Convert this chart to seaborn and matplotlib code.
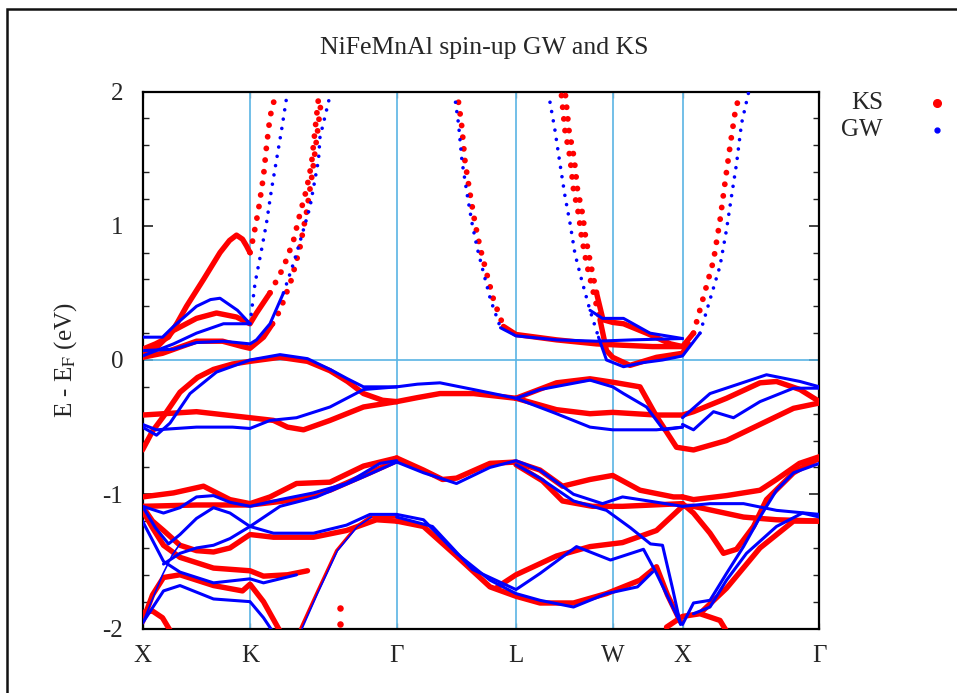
import numpy as np
import pandas as pd
import seaborn as sns
import matplotlib
matplotlib.use("Agg")
import matplotlib.pyplot as plt
from matplotlib.lines import Line2D
from matplotlib.patches import Rectangle
from matplotlib.ticker import MultipleLocator

# ---------------- data (k along path, E - E_F in eV) ----------------
sym_labels = ["X", "K", "Γ", "L", "W", "X", "Γ"]
sym_k = [0.0, 1.075, 2.542, 3.735, 4.702, 5.40, 6.77]

# ---- KS (red) bands, continuous parts ----
ks_bump_k = [0, 0.13, 0.26, 0.35, 0.44, 0.61, 0.775, 0.87, 0.94, 1.0, 1.04, 1.075]
ks_bump_e = [0.08, 0.12, 0.17, 0.28, 0.40, 0.60, 0.80, 0.89, 0.93, 0.90, 0.85, 0.80]
ks_mid_k = [0, 0.15, 0.31, 0.54, 0.74, 0.94, 1.075, 1.14, 1.275]
ks_mid_e = [0.05, 0.10, 0.22, 0.31, 0.35, 0.32, 0.27, 0.35, 0.50]
ks_low_k = [0, 0.2, 0.54, 0.8, 1.0, 1.075, 1.21, 1.30]
ks_low_e = [0.02, 0.05, 0.14, 0.14, 0.10, 0.087, 0.17, 0.27]
ks_dome_k = [0, 0.1, 0.21, 0.375, 0.55, 0.71, 0.9, 1.075, 1.375, 1.65, 1.875, 2.05, 2.21, 2.4, 2.542]
ks_dome_e = [-0.67, -0.53, -0.42, -0.24, -0.13, -0.07, -0.03, -0.01, 0.02, -0.01, -0.08, -0.16, -0.25, -0.30, -0.31]
ks_flat_k = [0, 0.54, 1.075, 1.31, 1.45, 1.61, 1.875, 2.21, 2.542]
ks_flat_e = [-0.41, -0.385, -0.43, -0.45, -0.50, -0.52, -0.45, -0.35, -0.31]
ks_gl_k = [2.542, 2.75, 2.975, 3.31, 3.735]
ks_gl_e = [-0.31, -0.28, -0.25, -0.25, -0.285]
ks_lwu_k = [3.735, 4.14, 4.475, 4.74, 4.975, 5.14, 5.34, 5.51, 5.84, 6.175, 6.51, 6.77]
ks_lwu_e = [-0.285, -0.17, -0.14, -0.17, -0.20, -0.42, -0.65, -0.67, -0.60, -0.48, -0.36, -0.32]
ks_lwl_k = [3.735, 4.14, 4.475, 4.702, 5.14, 5.40, 5.51, 5.84, 6.175, 6.34, 6.575, 6.77]
ks_lwl_e = [-0.285, -0.37, -0.40, -0.39, -0.41, -0.41, -0.385, -0.285, -0.17, -0.16, -0.22, -0.31]
ks_lflat_k = [3.61, 3.735, 4.14, 4.54, 4.80, 5.10, 5.40]
ks_lflat_e = [0.25, 0.19, 0.15, 0.12, 0.11, 0.10, 0.10]
ks_w1_k = [4.575, 4.64, 4.702, 4.875, 5.14, 5.40, 5.46]
ks_w1_e = [0.30, 0.07, 0.02, -0.04, 0.02, 0.05, 0.12]
ks_w2_k = [4.54, 4.605, 4.702, 4.81, 5.04, 5.28, 5.40, 5.51]
ks_w2_e = [0.50, 0.30, 0.28, 0.27, 0.20, 0.12, 0.10, 0.20]
ks_A_k = [0, 0.31, 0.61, 0.875, 1.075, 1.275, 1.54, 1.875, 2.21, 2.542]
ks_A_e = [-1.02, -0.99, -0.94, -1.04, -1.07, -1.02, -0.92, -0.91, -0.79, -0.73]
ks_B_k = [0, 0.54, 1.075, 1.54, 1.875, 2.275, 2.542]
ks_B_e = [-1.09, -1.08, -1.08, -1.04, -0.97, -0.84, -0.75]
ks_C_k = [0, 0.1, 0.21, 0.375, 0.54, 0.71, 0.875, 1.075, 1.31, 1.71, 2.04, 2.34, 2.542]
ks_C_e = [-1.09, -1.20, -1.27, -1.38, -1.42, -1.43, -1.40, -1.30, -1.32, -1.32, -1.27, -1.19, -1.20]
ks_D_k = [0, 0.1, 0.21, 0.375, 0.71, 1.075, 1.21, 1.45, 1.65]
ks_D_e = [-1.12, -1.25, -1.38, -1.47, -1.55, -1.57, -1.61, -1.60, -1.57]
ks_E_k = [0, 0.1, 0.21, 0.375, 0.71, 1.0, 1.075, 1.21, 1.375]
ks_E_e = [-1.95, -1.75, -1.62, -1.60, -1.68, -1.72, -1.67, -1.80, -2.02]
ks_arc_k = [0, 0.1, 0.2, 0.28]
ks_arc_e = [-1.88, -1.87, -1.92, -2.02]
ks_M1_k = [2.542, 2.81, 3.0, 3.14, 3.475, 3.735, 3.975, 4.2, 4.475, 4.702, 4.975, 5.31, 5.40]
ks_M1_e = [-0.73, -0.82, -0.89, -0.88, -0.77, -0.76, -0.82, -0.94, -0.89, -0.86, -0.97, -1.02, -1.02]
ks_M2_k = [3.735, 4.0, 4.2, 4.5, 4.8, 5.1, 5.40]
ks_M2_e = [-0.78, -0.90, -1.05, -1.09, -1.09, -1.08, -1.07]
ks_M3_k = [2.542, 2.81, 3.14, 3.475, 3.735, 3.975, 4.31, 4.64, 4.975, 5.14, 5.25, 5.38]
ks_M3_e = [-1.20, -1.24, -1.46, -1.69, -1.76, -1.81, -1.81, -1.74, -1.64, -1.54, -1.75, -1.95]
ks_M4_k = [3.55, 3.735, 4.14, 4.475, 4.8, 5.14, 5.40]
ks_M4_e = [-1.69, -1.60, -1.46, -1.39, -1.36, -1.27, -1.09]
ks_X1_k = [5.40, 5.51, 5.84, 6.175, 6.34, 6.57, 6.77]
ks_X1_e = [-1.02, -1.04, -1.01, -0.97, -0.89, -0.77, -0.72]
ks_X2_k = [5.40, 5.51, 5.675, 5.81, 5.94, 6.11, 6.24, 6.51, 6.77]
ks_X2_e = [-1.07, -1.14, -1.29, -1.44, -1.41, -1.24, -1.04, -0.84, -0.73]
ks_X3_k = [5.40, 5.51, 6.01, 6.34, 6.77]
ks_X3_e = [-1.09, -1.09, -1.17, -1.19, -1.20]
ks_X4_k = [5.6, 5.84, 6.175, 6.51, 6.77]
ks_X4_e = [-1.87, -1.70, -1.40, -1.20, -1.20]
ks_arc2_k = [5.24, 5.40, 5.575, 5.775, 5.84]
ks_arc2_e = [-1.99, -1.91, -1.89, -1.94, -2.02]

# ---- KS (red) steep parts drawn as dotted points ----
ks_s1_k = [1.075, 1.11, 1.16, 1.21, 1.24, 1.275, 1.315]
ks_s1_e = [0.80, 0.92, 1.12, 1.37, 1.59, 1.81, 1.93]
ks_s2_k = [1.275, 1.41, 1.51, 1.575, 1.64, 1.69, 1.725, 1.76]
ks_s2_e = [0.50, 0.69, 0.89, 1.09, 1.27, 1.46, 1.71, 1.95]
ks_s3_k = [1.30, 1.375, 1.49, 1.575, 1.64, 1.70, 1.75, 1.79]
ks_s3_e = [0.27, 0.37, 0.60, 0.84, 1.10, 1.40, 1.70, 1.95]
ks_s4_k = [3.16, 3.19, 3.225, 3.275, 3.325, 3.375, 3.44, 3.51, 3.61]
ks_s4_e = [1.92, 1.76, 1.48, 1.24, 1.02, 0.84, 0.65, 0.45, 0.25]
ks_s5_k = [4.19, 4.225, 4.275, 4.31, 4.36, 4.39, 4.44, 4.51, 4.575]
ks_s5_e = [1.97, 1.71, 1.51, 1.27, 1.09, 0.92, 0.72, 0.50, 0.30]
ks_s6_k = [4.23, 4.265, 4.315, 4.35, 4.40, 4.43, 4.48, 4.54]
ks_s6_e = [1.97, 1.71, 1.51, 1.27, 1.09, 0.92, 0.72, 0.50]
ks_s7_k = [5.51, 5.61, 5.71, 5.775, 5.825, 5.875, 5.925, 5.96]
ks_s7_e = [0.20, 0.47, 0.74, 1.04, 1.32, 1.59, 1.84, 1.95]
ks_s8_k = [1.575, 1.74, 1.94, 2.14, 2.275, 2.542]
ks_s8_e = [-2.01, -1.74, -1.42, -1.24, -1.17, -1.17]
ks_dot_k = [1.975, 1.975]
ks_dot_e = [-1.85, -1.97]

# ---- GW (blue) bands, continuous parts ----
gw_hump_k = [0, 0.2, 0.31, 0.54, 0.68, 0.775, 0.95, 1.075]
gw_hump_e = [0.17, 0.17, 0.25, 0.40, 0.45, 0.46, 0.37, 0.27]
gw_mid_k = [0, 0.31, 0.54, 0.81, 1.075]
gw_mid_e = [0.03, 0.12, 0.20, 0.27, 0.27]
gw_low_k = [0, 0.31, 0.54, 0.81, 1.075, 1.14, 1.275, 1.41]
gw_low_e = [0.07, 0.08, 0.13, 0.14, 0.12, 0.15, 0.27, 0.50]
gw_dome_k = [0, 0.14, 0.275, 0.475, 0.74, 1.075, 1.375, 1.65, 1.875, 2.05, 2.21, 2.542]
gw_dome_e = [-0.50, -0.56, -0.47, -0.25, -0.09, 0.0, 0.04, 0.01, -0.07, -0.14, -0.20, -0.20]
gw_flat_k = [0, 0.14, 0.54, 0.9, 1.075, 1.275, 1.54, 1.875, 2.21, 2.542]
gw_flat_e = [-0.48, -0.52, -0.50, -0.50, -0.51, -0.45, -0.43, -0.35, -0.22, -0.20]
gw_gl_k = [2.542, 2.75, 2.975, 3.31, 3.735]
gw_gl_e = [-0.20, -0.18, -0.17, -0.22, -0.285]
gw_lwu_k = [3.735, 3.975, 4.475, 4.702, 4.81, 5.04, 5.21, 5.40]
gw_lwu_e = [-0.285, -0.22, -0.15, -0.20, -0.25, -0.35, -0.52, -0.50]
gw_lwl_k = [3.735, 4.14, 4.475, 4.702, 5.14, 5.40]
gw_lwl_e = [-0.285, -0.40, -0.50, -0.52, -0.52, -0.50]
gw_xg1_k = [5.40, 5.51, 5.71, 5.91, 6.175, 6.51, 6.77]
gw_xg1_e = [-0.48, -0.52, -0.385, -0.43, -0.31, -0.21, -0.21]
gw_xg2_k = [5.40, 5.675, 6.24, 6.575, 6.77]
gw_xg2_e = [-0.43, -0.25, -0.11, -0.16, -0.20]
gw_lflat_k = [3.58, 3.735, 4.14, 4.54, 4.90, 5.40]
gw_lflat_e = [0.24, 0.18, 0.15, 0.14, 0.15, 0.16]
gw_w1_k = [4.56, 4.64, 4.81, 5.0, 5.2, 5.40, 5.575]
gw_w1_e = [0.17, 0.0, -0.05, -0.02, 0.0, 0.03, 0.20]
gw_w2_k = [4.475, 4.6, 4.81, 5.075, 5.40]
gw_w2_e = [0.37, 0.31, 0.31, 0.20, 0.16]
gw_A_k = [0, 0.21, 0.375, 0.54, 0.71, 0.875, 1.075, 1.375, 1.71, 2.04, 2.375, 2.542]
gw_A_e = [-1.09, -1.14, -1.10, -1.02, -1.01, -1.06, -1.09, -1.04, -0.99, -0.92, -0.77, -0.75]
gw_P_k = [0, 0.13, 0.26, 0.375, 0.54, 0.71, 0.875, 1.075, 1.31, 1.71, 2.04, 2.275, 2.542]
gw_P_e = [-1.09, -1.25, -1.37, -1.30, -1.18, -1.10, -1.14, -1.24, -1.29, -1.29, -1.23, -1.15, -1.15]
gw_Q_k = [0.21, 0.375, 0.54, 0.71, 0.875, 1.075, 1.375, 1.74, 2.21, 2.542]
gw_Q_e = [-1.52, -1.44, -1.40, -1.38, -1.33, -1.24, -1.09, -1.02, -0.87, -0.76]
gw_D_k = [0, 0.21, 0.375, 0.71, 1.075, 1.21, 1.54]
gw_D_e = [-1.20, -1.50, -1.58, -1.66, -1.63, -1.66, -1.60]
gw_E_k = [0, 0.21, 0.375, 0.71, 1.075, 1.21, 1.30]
gw_E_e = [-1.96, -1.72, -1.68, -1.78, -1.80, -1.92, -2.02]
gw_M1_k = [2.542, 2.81, 3.14, 3.475, 3.735, 3.975, 4.31, 4.6, 4.8, 4.975, 5.40]
gw_M1_e = [-0.76, -0.84, -0.92, -0.80, -0.75, -0.82, -1.00, -1.07, -1.02, -1.04, -1.09]
gw_M2_k = [3.735, 3.975, 4.31, 4.64, 4.88, 5.08, 5.2, 5.3, 5.38]
gw_M2_e = [-0.78, -0.88, -1.05, -1.12, -1.25, -1.37, -1.38, -1.70, -1.97]
gw_M3_k = [2.542, 2.81, 3.14, 3.475, 3.735, 3.975, 4.31, 4.64, 4.95, 5.1]
gw_M3_e = [-1.15, -1.19, -1.44, -1.64, -1.74, -1.79, -1.84, -1.74, -1.69, -1.58]
gw_M4_k = [2.542, 2.9, 3.3, 3.735, 3.975, 4.34, 4.68, 5.01, 5.14, 5.38]
gw_M4_e = [-1.17, -1.24, -1.56, -1.71, -1.59, -1.39, -1.49, -1.41, -1.59, -1.96]
gw_X1_k = [5.40, 5.675, 6.01, 6.34, 6.77]
gw_X1_e = [-1.09, -1.07, -1.07, -1.12, -1.15]
gw_X2_k = [5.40, 5.51, 5.675, 5.84, 6.01, 6.175, 6.34, 6.51, 6.77]
gw_X2_e = [-1.97, -1.81, -1.79, -1.59, -1.39, -1.17, -0.97, -0.84, -0.77]
gw_X3_k = [5.51, 5.675, 5.84, 6.04, 6.34, 6.6, 6.77]
gw_X3_e = [-1.89, -1.84, -1.64, -1.44, -1.24, -1.14, -1.17]

# ---- GW (blue) steep parts drawn as dotted points ----
gw_s1_k = [1.075, 1.125, 1.19, 1.24, 1.29, 1.34, 1.39, 1.44]
gw_s1_e = [0.27, 0.57, 0.82, 1.02, 1.27, 1.49, 1.71, 1.95]
gw_s2_k = [1.41, 1.51, 1.59, 1.675, 1.76, 1.775, 1.84, 1.875]
gw_s2_e = [0.50, 0.72, 0.92, 1.14, 1.49, 1.66, 1.86, 1.97]
gw_s3_k = [3.13, 3.16, 3.195, 3.245, 3.295, 3.345, 3.41, 3.48, 3.58]
gw_s3_e = [1.92, 1.76, 1.48, 1.24, 1.02, 0.84, 0.65, 0.45, 0.24]
gw_s4_k = [4.075, 4.125, 4.175, 4.225, 4.275, 4.325, 4.39, 4.475, 4.56]
gw_s4_e = [1.92, 1.71, 1.46, 1.22, 1.02, 0.79, 0.60, 0.37, 0.17]
gw_s5_k = [5.575, 5.675, 5.775, 5.84, 5.89, 5.94, 5.99, 6.06]
gw_s5_e = [0.20, 0.45, 0.70, 0.97, 1.22, 1.46, 1.76, 1.99]
gw_s6_k = [0, 0.1, 0.2, 0.3, 0.375]
gw_s6_e = [-1.96, -1.78, -1.60, -1.45, -1.37]
gw_s7_k = [1.59, 1.75, 1.95, 2.15, 2.29]
gw_s7_e = [-2.01, -1.74, -1.42, -1.24, -1.17]

ks_solid = [(ks_bump_k, ks_bump_e), (ks_mid_k, ks_mid_e), (ks_low_k, ks_low_e),
            (ks_dome_k, ks_dome_e), (ks_flat_k, ks_flat_e), (ks_gl_k, ks_gl_e),
            (ks_lwu_k, ks_lwu_e), (ks_lwl_k, ks_lwl_e), (ks_lflat_k, ks_lflat_e),
            (ks_w1_k, ks_w1_e), (ks_w2_k, ks_w2_e), (ks_A_k, ks_A_e), (ks_B_k, ks_B_e),
            (ks_C_k, ks_C_e), (ks_D_k, ks_D_e), (ks_E_k, ks_E_e), (ks_arc_k, ks_arc_e),
            (ks_M1_k, ks_M1_e), (ks_M2_k, ks_M2_e), (ks_M3_k, ks_M3_e), (ks_M4_k, ks_M4_e),
            (ks_X1_k, ks_X1_e), (ks_X2_k, ks_X2_e), (ks_X3_k, ks_X3_e), (ks_X4_k, ks_X4_e),
            (ks_arc2_k, ks_arc2_e)]
ks_dotted = [(ks_s1_k, ks_s1_e), (ks_s2_k, ks_s2_e), (ks_s3_k, ks_s3_e),
             (ks_s4_k, ks_s4_e), (ks_s5_k, ks_s5_e), (ks_s6_k, ks_s6_e), (ks_s7_k, ks_s7_e)]
ks_thin = [(ks_s8_k, ks_s8_e)]
gw_solid = [(gw_hump_k, gw_hump_e), (gw_mid_k, gw_mid_e), (gw_low_k, gw_low_e),
            (gw_dome_k, gw_dome_e), (gw_flat_k, gw_flat_e), (gw_gl_k, gw_gl_e),
            (gw_lwu_k, gw_lwu_e), (gw_lwl_k, gw_lwl_e), (gw_xg1_k, gw_xg1_e),
            (gw_xg2_k, gw_xg2_e), (gw_lflat_k, gw_lflat_e), (gw_w1_k, gw_w1_e),
            (gw_w2_k, gw_w2_e), (gw_A_k, gw_A_e), (gw_P_k, gw_P_e), (gw_Q_k, gw_Q_e),
            (gw_D_k, gw_D_e), (gw_E_k, gw_E_e), (gw_M1_k, gw_M1_e), (gw_M2_k, gw_M2_e),
            (gw_M3_k, gw_M3_e), (gw_M4_k, gw_M4_e), (gw_X1_k, gw_X1_e), (gw_X2_k, gw_X2_e),
            (gw_X3_k, gw_X3_e)]
gw_dotted = [(gw_s1_k, gw_s1_e), (gw_s2_k, gw_s2_e), (gw_s3_k, gw_s3_e),
             (gw_s4_k, gw_s4_e), (gw_s5_k, gw_s5_e)]
gw_thin = [(gw_s6_k, gw_s6_e), (gw_s7_k, gw_s7_e)]


def to_frame(bands):
    rows = []
    for b, (ks, es) in enumerate(bands):
        for i, (k, e) in enumerate(zip(ks, es)):
            rows.append({"k": k, "E": e, "band": b, "order": i})
    return pd.DataFrame(rows)


sns.set_theme(style="white")
plt.rcParams["font.family"] = ["Liberation Serif", "DejaVu Serif"]
plt.rcParams["mathtext.fontset"] = "stix"

fig = plt.figure(figsize=(9.57, 6.93), dpi=100)
ax = fig.add_axes([142.5 / 957, 1 - 628.5 / 693, (819.5 - 142.5) / 957, (628.5 - 91.5) / 693])

RED = "#ff0000"
BLUE = "#0000ff"
GRID = "#5ab4e4"

# symmetry lines and Fermi level
for k in sym_k[1:-1]:
    ax.axvline(k, color=GRID, lw=1.2, zorder=1)
ax.axhline(0, color=GRID, lw=1.2, zorder=1)


def draw(bands, color, lw, z, **kw):
    df = to_frame(bands)
    sns.lineplot(data=df, x="k", y="E", units="band", estimator=None, sort=False,
                 color=color, lw=lw, ax=ax, legend=False, zorder=z, **kw)


draw(ks_solid, RED, 3.9, 3, solid_capstyle="round", solid_joinstyle="round")
draw(ks_dotted, RED, 4.2, 3, linestyle=(0, (0.01, 2.0)), dash_capstyle="round")
draw(ks_thin, RED, 2.2, 3)
draw(gw_solid, BLUE, 2.2, 4, solid_capstyle="round", solid_joinstyle="round")
draw(gw_dotted, BLUE, 2.6, 4, linestyle=(0, (0.01, 2.6)), dash_capstyle="round")
draw(gw_thin, BLUE, 1.2, 4)
sns.scatterplot(x=ks_dot_k, y=ks_dot_e, color=RED, s=22, ax=ax, legend=False,
                linewidth=0, zorder=3)

ax.set_xlim(sym_k[0], sym_k[-1])
ax.set_ylim(-2, 2)
ax.set_xticks(sym_k)
ax.set_xticklabels(sym_labels)
ax.yaxis.set_minor_locator(MultipleLocator(0.2))
ax.set_yticks([-2, -1, 0, 1, 2])
ax.set_yticklabels(["-2", "-1", "0", "1", "2"])
ax.tick_params(axis="y", which="major", direction="in", length=7, width=1.2,
               left=True, right=True, labelsize=18, pad=14, color="#222222")
ax.tick_params(axis="y", which="minor", direction="in", length=4, width=1.0,
               left=True, right=True, color="#222222")
ax.tick_params(axis="x", which="major", direction="in", length=4, width=1.0,
               bottom=True, top=True, labelsize=18, pad=12, color="#999999")
for s in ax.spines.values():
    s.set_color("black")
    s.set_linewidth(1.6)
ax.set_xlabel("")
ax.set_ylabel("E - E$_\\mathrm{F}$ (eV)", fontsize=18)
ax.yaxis.set_label_coords(-(142.5 - 79) / 677, 0.5)

fig.text(484 / 957, 1 - 48 / 693, "NiFeMnAl spin-up GW and KS", ha="center", va="center",
         fontsize=18.5)

# legend (gnuplot style)
fig.text(883 / 957, 1 - 103 / 693, "KS", ha="right", va="center", fontsize=18)
fig.text(883 / 957, 1 - 130 / 693, "GW", ha="right", va="center", fontsize=18)
fig.add_artist(Line2D([937 / 957], [1 - 103 / 693], marker="o", color=RED, ms=5.5,
                      lw=0, transform=fig.transFigure))
fig.add_artist(Line2D([937 / 957], [1 - 130 / 693], marker="o", color=BLUE, ms=3.5,
                      lw=0, transform=fig.transFigure))

# outer frame
fig.add_artist(Rectangle((7 / 957, -0.05), 1.1, 1 - 9 / 693 + 0.05, fill=False,
                         ec="#111111", lw=1.8, transform=fig.transFigure))

fig.savefig("out.png", dpi=100)
